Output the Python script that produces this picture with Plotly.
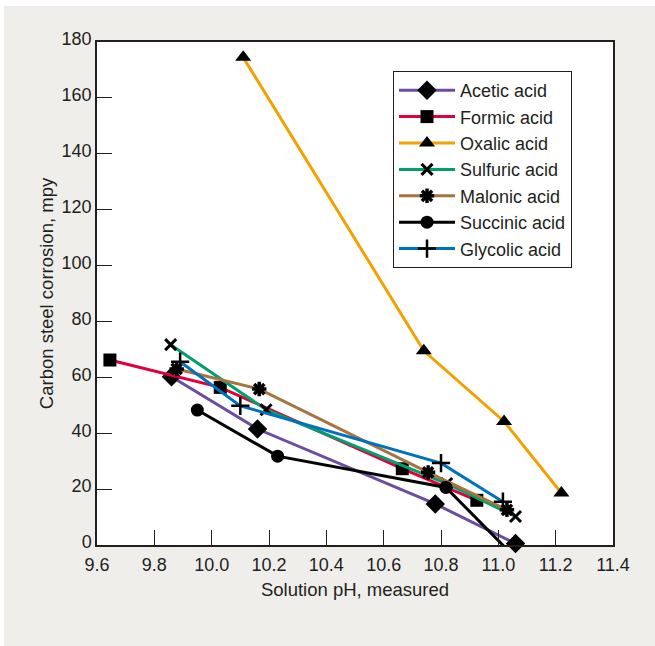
import plotly.graph_objects as go

# ---- data ----
acetic_ph = [9.86, 10.16, 10.78, 11.06]
acetic = [60.2, 41.5, 14.7, 0.5]

formic_ph = [9.645, 10.03, 10.665, 10.925]
formic = [66.2, 56.4, 27.3, 16.0]

oxalic_ph = [10.11, 10.74, 11.02, 11.22]
oxalic = [174.5, 69.5, 44.2, 18.6]

sulfuric_ph = [9.857, 10.19, 10.82, 11.06]
sulfuric = [71.7, 48.4, 22.0, 10.2]

malonic_ph = [9.878, 10.166, 10.755, 11.03]
malonic = [63.0, 55.8, 26.0, 12.6]

succinic_ph = [9.95, 10.23, 10.817, 11.02]
succinic = [48.3, 31.8, 20.6, -0.5]

glycolic_ph = [9.89, 10.10, 10.80, 11.016]
glycolic = [65.6, 49.8, 29.3, 15.5]

x_ticks = [9.6, 9.8, 10.0, 10.2, 10.4, 10.6, 10.8, 11.0, 11.2, 11.4]
y_ticks = [0, 20, 40, 60, 80, 100, 120, 140, 160, 180]

series = [
    ("Acetic acid", acetic_ph, acetic, "#6b4c9f", "diamond", 15, 0),
    ("Formic acid", formic_ph, formic, "#e2003c", "square", 13, 0),
    ("Oxalic acid", oxalic_ph, oxalic, "#f3a100", "triangle-up", 14, 0),
    ("Sulfuric acid", sulfuric_ph, sulfuric, "#00a06e", "x-thin-open", 11, 3),
    ("Malonic acid", malonic_ph, malonic, "#a8733f", "asterisk-open", 12, 3.5),
    ("Succinic acid", succinic_ph, succinic, "#000000", "circle", 13, 0),
    ("Glycolic acid", glycolic_ph, glycolic, "#0071bc", "cross-thin-open", 13, 2.5),
]

FONT = "Liberation Sans, Arial, sans-serif"
TXT = "#231f20"

fig = go.Figure()
for name, xs, ys, col, sym, size, lw in series:
    fig.add_trace(go.Scatter(
        x=xs, y=ys, name=name, mode="lines+markers",
        line=dict(color=col, width=3),
        marker=dict(symbol=sym, size=size, color="black",
                    line=dict(color="black", width=lw)),
        cliponaxis=False,
    ))

L, R, T, B = 97, 42, 42, 101
W, H = 655, 646
pw, ph = W - L - R, H - T - B

def px_x(p):
    return (p - L) / pw

def px_y(p):
    return (H - B - p) / ph

fig.update_layout(
    width=W, height=H,
    margin=dict(l=L, r=R, t=T, b=B),
    paper_bgcolor="white",
    plot_bgcolor="white",
    font=dict(family=FONT, size=18, color=TXT),
    showlegend=True,
    legend=dict(
        x=px_x(393), y=px_y(71), xanchor="left", yanchor="top",
        bgcolor="white", bordercolor="#231f20", borderwidth=1,
        font=dict(family=FONT, size=18, color=TXT),
        itemwidth=56, tracegroupgap=0,
    ),
    shapes=[
        dict(type="rect", xref="paper", yref="paper", layer="below",
             x0=px_x(4), x1=px_x(660), y0=px_y(650), y1=px_y(6),
             fillcolor="#efeeea", line=dict(width=0)),
        dict(type="rect", xref="paper", yref="paper", layer="below",
             x0=0, x1=1, y0=0, y1=1,
             fillcolor="white", line=dict(width=0)),
    ],
)

fig.update_xaxes(
    range=[9.6, 11.4], tickvals=x_ticks,
    ticktext=[f"{v:.1f}" for v in x_ticks],
    ticks="inside", ticklen=15, tickwidth=1.2, tickcolor="#231f20",
    showline=True, linecolor="#231f20", linewidth=1.5, mirror=True,
    showgrid=False, zeroline=False, ticklabelstandoff=3,
    title=dict(text="Solution pH, measured", standoff=9,
               font=dict(family=FONT, size=18.5, color=TXT)),
    tickfont=dict(family=FONT, size=18, color=TXT),
)
fig.update_yaxes(
    range=[0, 180], tickvals=y_ticks,
    ticks="inside", ticklen=15, tickwidth=1.2, tickcolor="#231f20",
    showline=True, linecolor="#231f20", linewidth=1.5, mirror=True,
    showgrid=False, zeroline=False, ticklabelshift=-3,
    title=dict(text="Carbon steel corrosion, mpy", standoff=3,
               font=dict(family=FONT, size=18.5, color=TXT)),
    tickfont=dict(family=FONT, size=18, color=TXT),
)

fig.write_html(
    "out.html",
    config={"displayModeBar": False},
    post_script=["document.body.style.margin='0';document.body.style.padding='0';"],
)
